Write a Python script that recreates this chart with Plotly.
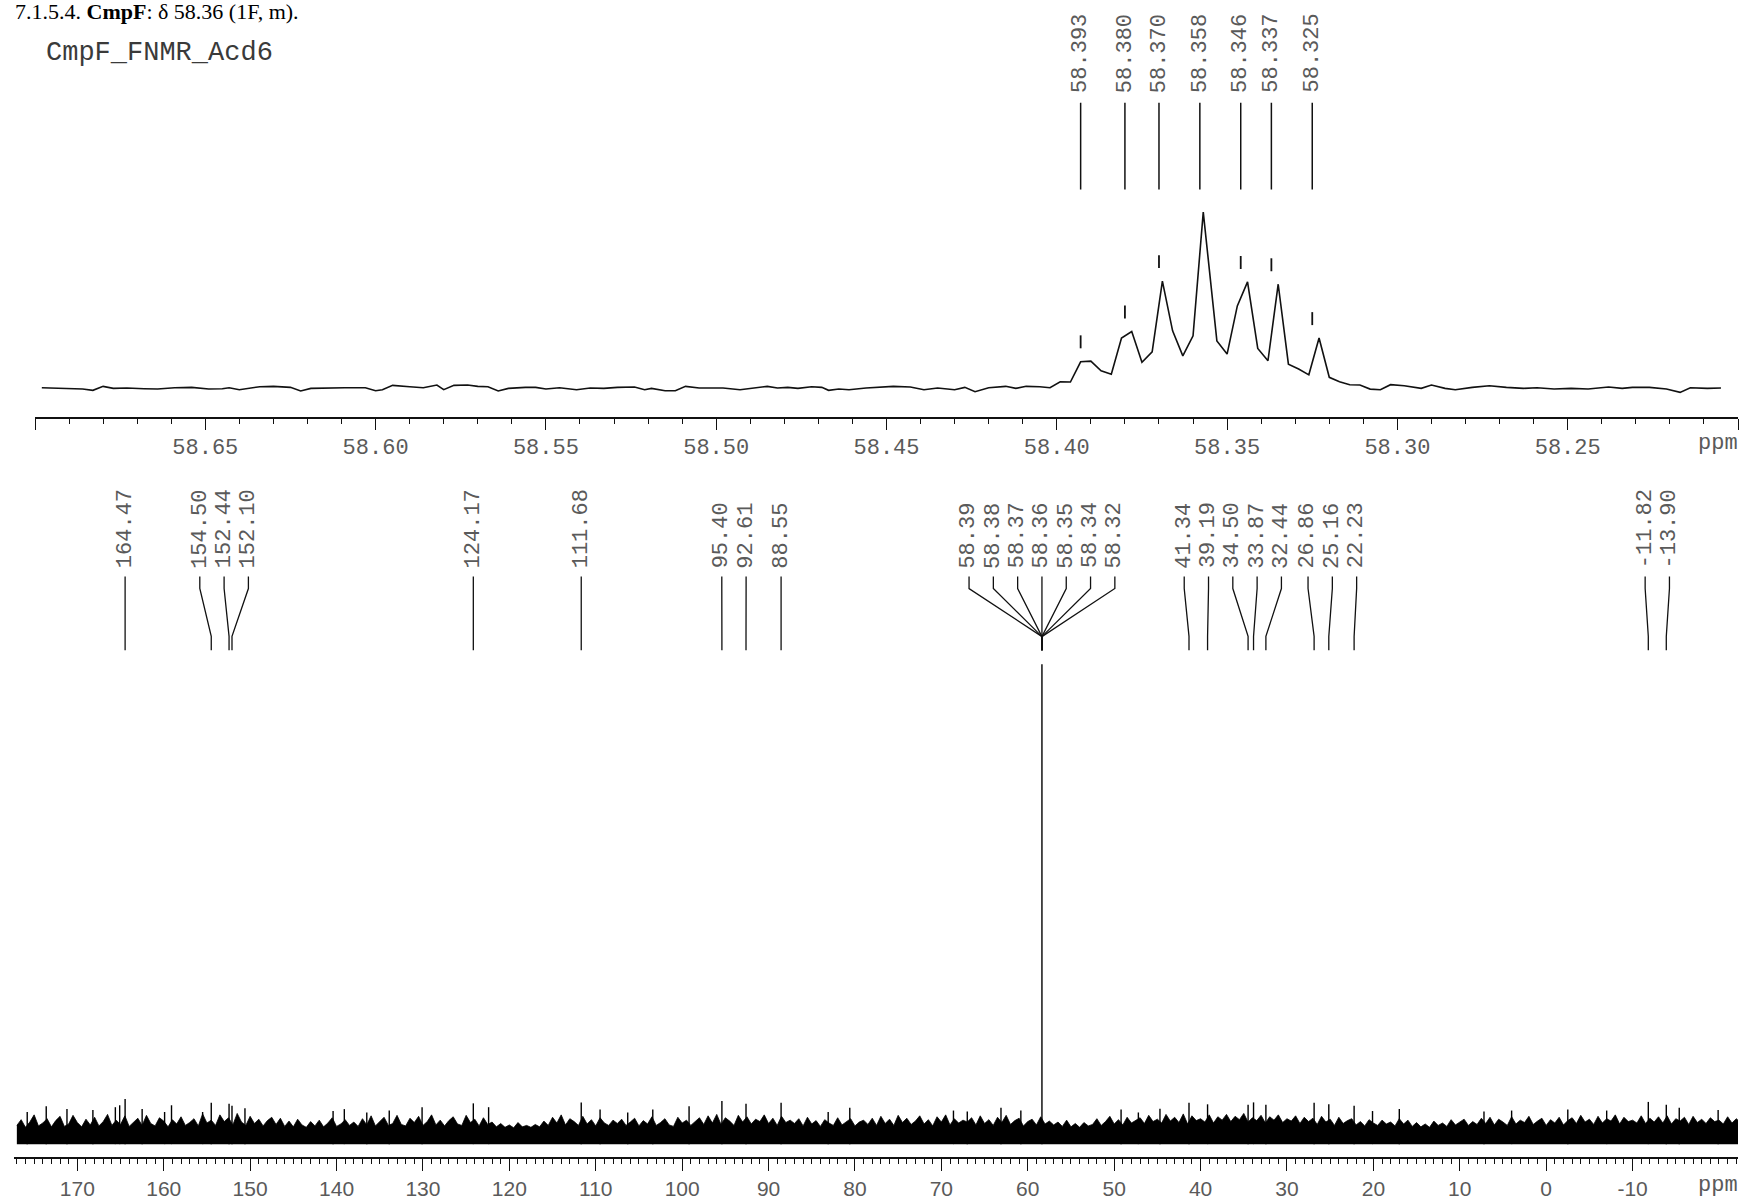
import plotly.graph_objects as go

W, H = 1745, 1200

# ---------------- expanded 19F region (top panel) ----------------
inset_ppm = [
    58.698, 58.694, 58.689, 58.686, 58.683, 58.680, 58.677, 58.673, 58.668, 58.664,
    58.659, 58.654, 58.649, 58.645, 58.643, 58.640, 58.634, 58.630, 58.625, 58.622,
    58.619, 58.614, 58.609, 58.603, 58.600, 58.598, 58.595, 58.590, 58.586, 58.582,
    58.580, 58.577, 58.573, 58.570, 58.567, 58.564, 58.561, 58.556, 58.553, 58.550,
    58.546, 58.541, 58.537, 58.533, 58.529, 58.524, 58.521, 58.519, 58.515, 58.512,
    58.509, 58.505, 58.501, 58.498, 58.493, 58.489, 58.485, 58.482, 58.479, 58.476,
    58.472, 58.469, 58.467, 58.464, 58.461, 58.456, 58.448, 58.443, 58.439, 58.435,
    58.430, 58.427, 58.424, 58.420, 58.417, 58.415, 58.412, 58.409, 58.405, 58.402,
    58.399, 58.396, 58.393, 58.390, 58.387, 58.384, 58.381, 58.378, 58.375, 58.372,
    58.369, 58.366, 58.363, 58.360, 58.357, 58.353, 58.350, 58.347, 58.344, 58.341,
    58.338, 58.335, 58.332, 58.329, 58.326, 58.323, 58.320, 58.317, 58.314, 58.311,
    58.308, 58.305, 58.302, 58.298, 58.293, 58.290, 58.286, 58.283, 58.278, 58.273,
    58.268, 58.263, 58.259, 58.254, 58.249, 58.244, 58.238, 58.234, 58.231, 58.226,
    58.221, 58.217, 58.214, 58.209, 58.205,
]
inset_int = [
    0.19, -0.19, -0.57, -0.57, -1.32, 0.94, -0.19, 0.0, -0.38, -0.57,
    0.19, 0.38, -0.57, -0.38, 0.19, -0.94, 0.75, 0.94, 0.38, -1.70,
    -0.19, 0.19, 0.19, 0.19, -1.51, -0.94, 1.51, 0.75, 0.19, 1.70,
    -0.94, 1.51, 1.70, 0.94, 0.75, -1.70, -0.19, 0.38, 0.38, -0.57,
    0.19, -0.94, 0.0, -0.19, 0.38, 0.57, -0.94, -0.19, -1.51, -1.51,
    0.94, 0.0, -0.19, 0.0, -0.94, 0.0, 0.94, 0.0, 0.38, -0.19,
    0.75, 0.38, -1.32, -0.57, -0.94, 0.0, 0.94, 0.57, -0.94, 0.0,
    -0.94, 0.38, -2.08, 0.19, 0.40, 0.96, -0.17, 0.96, 0.74, 0.17,
    3.57, 3.40, 14.9, 15.3, 9.8, 7.8, 28.4, 32.1, 14.6, 20.6,
    60.8, 32.5, 18.3, 29.7, 100.0, 26.8, 19.3, 46.7, 60.3, 22.5,
    15.5, 59.0, 13.6, 10.8, 7.5, 28.4, 6.1, 3.6, 1.9, 1.7,
    -0.6, -1.0, 1.9, 1.3, -0.2, 1.70, -0.19, -0.94, 0.38, 1.32,
    0.38, -0.19, 0.19, -0.57, -0.19, -0.57, 0.57, -0.19, 0.38, 0.38,
    -0.57, -2.46, 0.19, -0.19, 0.0,
]
inset_peaks = [58.393, 58.380, 58.370, 58.358, 58.346, 58.337, 58.325]
inset_peak_heights = [15.2, 32.1, 60.8, 100.0, 60.3, 59.0, 28.4]
inset_tick_vals = [58.70, 58.65, 58.60, 58.55, 58.50, 58.45, 58.40, 58.35, 58.30, 58.25, 58.20]
inset_tick_text = ["", "58.65", "58.60", "58.55", "58.50", "58.45", "58.40", "58.35", "58.30", "58.25", ""]

# ---------------- full 19F spectrum (bottom panel) ----------------
# baseline noise ("grass") read every 0.5 ppm from 177.0 down to -22.5 ppm
grass_ppm = [177.0 - 0.5 * k for k in range(400)]
grass_int = [
    3.9, 5.1, 3.5, 4.6, 6.1, 3.8, 4.4, 5.3, 3.6, 4.9, 5.8, 3.7, 4.2, 6.0, 4.5, 3.6, 5.2, 4.0, 5.6, 3.8,
    4.7, 6.2, 3.9, 5.0, 4.1, 5.9, 3.7, 4.6, 5.4, 3.9, 6.0, 4.3, 3.8, 5.5, 4.8, 3.6, 5.1, 4.2, 5.7, 3.9,
    4.5, 5.3, 3.8, 6.3, 4.4, 5.0, 3.9, 6.1, 4.7, 5.5, 4.0, 6.4, 4.6, 3.9, 5.8, 4.3, 5.2, 3.8, 4.9, 5.6,
    4.1, 5.4, 3.7, 4.8, 3.6, 5.2, 4.0, 3.5, 4.7, 3.8, 5.0, 3.6, 4.4, 5.5, 3.7, 4.2, 5.1, 3.9, 4.6, 3.7,
    5.3, 4.0, 5.9, 3.8, 4.6, 5.6, 3.9, 4.3, 6.0, 4.1, 3.8, 5.4, 4.5, 5.8, 3.9, 4.7, 6.1, 4.0, 5.0, 3.8,
    4.9, 5.7, 4.2, 3.9, 6.0, 4.5, 5.2, 3.8, 5.5, 4.1, 4.6, 3.6, 4.3, 3.5, 4.0, 3.4, 4.5, 3.6, 3.9, 3.5,
    4.1, 3.6, 4.8, 3.9, 5.6, 4.4, 6.1, 4.0, 5.3, 4.7, 3.9, 5.8, 4.2, 5.1, 3.8, 5.5, 4.4, 3.9, 5.0, 4.3,
    5.2, 3.9, 4.6, 5.4, 3.8, 4.9, 4.2, 5.7, 3.9, 4.5, 5.3, 4.0, 3.7, 5.6, 4.4, 5.0, 3.9, 4.8, 5.5, 4.1,
    5.9, 4.4, 6.2, 4.1, 5.5, 4.8, 3.9, 6.0, 4.6, 5.7, 4.2, 5.2, 4.7, 6.1, 4.3, 5.4, 3.9, 5.8, 4.5, 5.0,
    4.3, 5.3, 3.8, 5.6, 4.2, 4.9, 3.7, 5.1, 4.4, 3.9, 5.5, 4.0, 4.7, 5.3, 3.8, 4.6, 5.0, 4.1, 5.4, 3.9,
    5.8, 4.3, 5.2, 3.9, 6.0, 4.5, 5.4, 4.1, 4.8, 5.9, 4.2, 5.1, 3.8, 5.7, 4.6, 6.1, 4.0, 5.3, 4.4, 5.0,
    4.6, 5.5, 4.0, 5.9, 4.3, 5.1, 3.9, 5.6, 4.5, 6.0, 4.1, 4.9, 5.4, 3.8, 4.7, 5.2, 4.0, 5.7, 4.2, 4.8,
    4.0, 4.6, 3.7, 5.0, 3.6, 4.3, 3.5, 4.5, 3.8, 4.1, 5.3, 3.9, 4.7, 5.8, 4.2, 5.1, 4.0, 5.6, 4.4, 4.9,
    5.5, 4.3, 6.0, 4.7, 5.2, 4.4, 6.2, 4.8, 5.6, 4.5, 6.3, 4.2, 5.9, 4.9, 5.3, 4.6, 6.1, 4.4, 5.7, 5.0,
    6.2, 4.7, 5.8, 5.1, 6.4, 4.6, 5.5, 4.9, 6.0, 4.4, 5.7, 5.0, 6.1, 4.5, 5.3, 4.8, 5.9, 4.3, 5.6, 4.7,
    5.4, 4.1, 5.8, 4.6, 5.2, 3.9, 5.6, 4.3, 4.9, 5.3, 4.0, 4.7, 3.8, 5.1, 4.4, 3.9, 5.0, 4.2, 4.6, 3.8,
    5.3, 4.2, 5.0, 3.7, 4.5, 3.6, 4.2, 3.5, 4.8, 3.9, 4.4, 3.7, 5.1, 4.0, 4.6, 5.2, 3.9, 4.7, 4.1, 5.4,
    4.3, 5.6, 4.0, 5.2, 4.6, 3.9, 5.7, 4.2, 5.0, 4.5, 5.8, 4.1, 4.8, 5.4, 3.9, 5.1, 4.4, 5.6, 4.0, 4.9,
    5.5, 4.3, 6.0, 4.6, 5.2, 4.1, 5.8, 4.4, 5.3, 4.8, 6.1, 4.2, 5.6, 4.7, 5.0, 4.4, 5.9, 4.3, 5.4, 4.6,
    5.7, 4.4, 5.9, 4.2, 5.3, 4.8, 5.6, 4.1, 5.8, 4.5, 5.2, 4.3, 5.5, 4.7, 5.0, 4.2, 5.7, 4.4, 5.3, 4.5,
]
spike_ppm = [
    175.8, 173.6, 171.2, 168.2, 165.6, 165.1, 164.47, 162.5, 159.9, 159.1,
    155.5, 154.50, 152.44, 152.10, 150.6, 140.4, 139.1, 136.5, 133.9, 130.1,
    124.17, 122.4, 111.68, 109.5, 106.3, 103.4, 99.2, 95.40, 92.61, 88.55,
    83.1, 80.6, 68.6, 67.0, 63.1, 60.8, 58.36, 49.2, 47.2, 44.7,
    41.34, 39.19, 34.50, 33.87, 32.44, 26.86, 25.16, 22.23, 20.1, 17.0,
    7.2, 4.0, -2.5, -7.0, -11.82, -13.90, -15.4, -19.9,
]
spike_int = [
    6.7, 7.9, 7.3, 7.1, 7.7, 8.1, 9.4, 7.3, 6.7, 8.1,
    6.7, 8.6, 8.4, 8.0, 7.5, 6.9, 7.3, 6.6, 7.0, 7.7,
    8.5, 7.7, 8.7, 7.2, 6.6, 7.2, 7.9, 9.0, 8.4, 8.6,
    6.7, 7.6, 7.0, 6.8, 7.6, 7.0, 100.0, 7.2, 6.6, 7.4,
    8.6, 8.3, 8.2, 8.7, 8.2, 8.6, 8.3, 8.0, 6.9, 7.3,
    6.8, 7.0, 7.2, 7.0, 8.8, 8.2, 7.6, 7.1,
]
full_peaks = [164.47, 154.50, 152.44, 152.10, 124.17, 111.68, 95.40, 92.61, 88.55,
              58.39, 58.38, 58.37, 58.36, 58.35, 58.34, 58.32,
              41.34, 39.19, 34.50, 33.87, 32.44, 26.86, 25.16, 22.23, -11.82, -13.90]
full_tick_vals = [170, 160, 150, 140, 130, 120, 110, 100, 90, 80, 70, 60, 50, 40, 30, 20, 10, 0, -10]
full_tick_text = ["170", "160", "150", "140", "130", "120", "110", "100", "90", "80",
                  "70", "60", "50", "40", "30", "20", "10", "0", "-10"]

# ---------------- geometry (pixels) ----------------
IX0, IX1 = 35, 1738
IR0, IR1 = 58.70, 58.20
IY_TOP, IY_AX, IY_BASE, I_PX = 201, 418, 389, 1.7637
FX0, FX1 = 14, 1738
FR0, FR1 = 177.33, -22.2
FY_TOP, FY_AX, FY_BASE, F_PX = 560, 1160, 1147, 4.81
MONO = "Liberation Mono, Courier New, monospace"
GREY = "#5a5a5a"


def py(p):
    return 1 - p / H


def full_px(p):
    return FX0 + (FR0 - p) / (FR0 - FR1) * (FX1 - FX0)


def full_ppm(x):
    return FR0 - (x - FX0) / (FX1 - FX0) * (FR0 - FR1)


def spread(xs, gap):
    order = sorted(range(len(xs)), key=lambda i: xs[i])
    groups = [[i] for i in order]

    def pos(g):
        c = sum(xs[i] for i in g) / len(g)
        return [c + (j - (len(g) - 1) / 2) * gap for j in range(len(g))]

    changed = True
    while changed:
        changed = False
        for a in range(len(groups) - 1):
            if pos(groups[a])[-1] + gap > pos(groups[a + 1])[0] + 1e-6:
                groups[a] = groups[a] + groups[a + 1]
                del groups[a + 1]
                changed = True
                break
    out = [0.0] * len(xs)
    for g in groups:
        for i, x in zip(g, pos(g)):
            out[i] = x
    return out


fig = go.Figure()

# inset spectrum
fig.add_trace(go.Scatter(x=inset_ppm, y=inset_int, mode="lines",
                         line=dict(color="#111111", width=1.6),
                         xaxis="x", yaxis="y", hoverinfo="skip"))
# peak-pick markers above inset peaks
mx, my = [], []
for p, h in zip(inset_peaks, inset_peak_heights):
    mx += [p, p, None]
    my += [h + 13 / I_PX, h + 26 / I_PX, None]
fig.add_trace(go.Scatter(x=mx, y=my, mode="lines", line=dict(color="#111111", width=1.8),
                         xaxis="x", yaxis="y", hoverinfo="skip"))

# full spectrum: noise band + spikes
fig.add_trace(go.Scatter(x=grass_ppm, y=grass_int, mode="lines", fill="tozeroy",
                         fillcolor="#000000", line=dict(color="#000000", width=0.8),
                         xaxis="x2", yaxis="y2", hoverinfo="skip"))
sx, sy = [], []
for p, h in zip(spike_ppm, spike_int):
    sx += [p, p, None]
    sy += [0, h, None]
fig.add_trace(go.Scatter(x=sx, y=sy, mode="lines", line=dict(color="#000000", width=1.4),
                         xaxis="x2", yaxis="y2", hoverinfo="skip"))

shapes, annos = [], []
# inset labels + lines
for p in inset_peaks:
    shapes.append(dict(type="line", xref="x", yref="paper", x0=p, x1=p,
                       y0=py(190), y1=py(103), line=dict(color="#111111", width=1.5)))
    annos.append(dict(xref="x", yref="paper", x=p, y=py(95), text=f"{p:.3f}",
                      textangle=-90, showarrow=False, xanchor="center", yanchor="bottom",
                      font=dict(family=MONO, size=22, color=GREY)))

# full-spectrum labels with fan connectors
peak_px = [full_px(p) for p in full_peaks]
label_px = spread(peak_px, 24.3)
for p, lx in zip(full_peaks, label_px):
    lp = full_ppm(lx)
    shapes.append(dict(type="path", xref="x2", yref="paper",
                       path=f"M {lp},{py(578)} L {lp},{py(590)} L {p},{py(638)} L {p},{py(652)}",
                       line=dict(color="#111111", width=1.3)))
    annos.append(dict(xref="x2", yref="paper", x=lp, y=py(572), text=f"{p:.2f}",
                      textangle=-90, showarrow=False, xanchor="center", yanchor="bottom",
                      font=dict(family=MONO, size=22, color=GREY)))

annos.append(dict(xref="paper", yref="paper", x=1740 / W, y=py(445), text="ppm",
                  showarrow=False, xanchor="right", yanchor="middle",
                  font=dict(family=MONO, size=22, color=GREY)))
annos.append(dict(xref="paper", yref="paper", x=1740 / W, y=py(1188), text="ppm",
                  showarrow=False, xanchor="right", yanchor="middle",
                  font=dict(family=MONO, size=22, color=GREY)))
annos.append(dict(xref="paper", yref="paper", x=44 / W, y=py(53), text="CmpF_FNMR_Acd6",
                  showarrow=False, xanchor="left", yanchor="middle",
                  font=dict(family=MONO, size=27, color="#3a3a3a")))
annos.append(dict(xref="paper", yref="paper", x=13 / W, y=py(12),
                  text="7.1.5.4. <b>CmpF</b>: δ 58.36 (1F, m).",
                  showarrow=False, xanchor="left", yanchor="middle",
                  font=dict(family="Liberation Serif, Times New Roman, serif", size=22, color="#000000")))

inset_minor = [round(58.20 + 0.01 * k, 2) for k in range(51)]
inset_minor = [v for v in inset_minor if round(v * 100) % 5 != 0]

fig.update_layout(
    width=W, height=H, margin=dict(l=0, r=0, t=0, b=0),
    paper_bgcolor="white", plot_bgcolor="white", showlegend=False,
    shapes=shapes, annotations=annos,
    xaxis=dict(domain=[IX0 / W, IX1 / W], range=[IR0, IR1], anchor="y",
               showline=True, linecolor="#111111", linewidth=1.5, showgrid=False, zeroline=False,
               ticks="outside", ticklen=11, tickwidth=1.3, tickcolor="#111111",
               tickmode="array", tickvals=inset_tick_vals, ticktext=inset_tick_text,
               ticklabelstandoff=-2,
               tickfont=dict(family=MONO, size=22, color=GREY),
               minor=dict(tickmode="array", tickvals=inset_minor, ticks="outside",
                          ticklen=5, tickwidth=1.2, tickcolor="#111111")),
    yaxis=dict(domain=[py(IY_AX), py(IY_TOP)],
               range=[-(IY_AX - IY_BASE) / I_PX, (IY_BASE - IY_TOP) / I_PX],
               visible=False, anchor="x"),
    xaxis2=dict(domain=[FX0 / W, FX1 / W], range=[FR0, FR1], anchor="y2",
                showline=True, linecolor="#111111", linewidth=1.5, showgrid=False, zeroline=False,
                ticks="outside", ticklen=12, tickwidth=1.3, tickcolor="#111111",
                tickmode="array", tickvals=full_tick_vals, ticktext=full_tick_text,
                tickfont=dict(family="Liberation Sans, Arial, sans-serif", size=21, color=GREY),
                minor=dict(dtick=1, tick0=0, ticks="outside", ticklen=5, tickwidth=1.1,
                           tickcolor="#111111")),
    yaxis2=dict(domain=[py(FY_AX), py(FY_TOP)],
                range=[-(FY_AX - FY_BASE) / F_PX, (FY_BASE - FY_TOP) / F_PX],
                visible=False, anchor="x2"),
)

fig.write_html("out.html")
